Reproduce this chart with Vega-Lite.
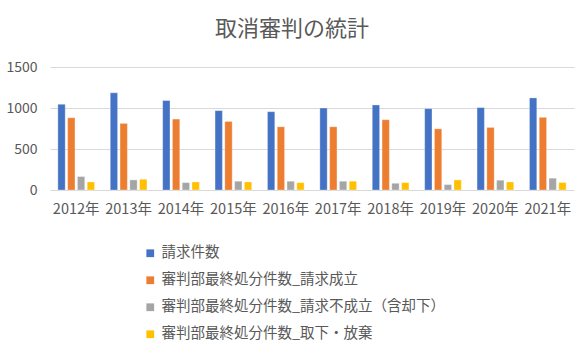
{
  "$schema": "https://vega.github.io/schema/vega-lite/v6.json",
  "width": 524,
  "height": 123,
  "autosize": {"type": "none"},
  "padding": {"left": 50, "top": 67, "right": 12, "bottom": 161},
  "background": "white",
  "title": {"text": "取消審判の統計", "font": "Noto Sans CJK JP", "fontSize": 22, "fontWeight": "normal", "color": "#595959", "offset": 19, "dx": -20},
  "data": {"values": [
    {"year": "2012年", "series": "請求件数", "value": 1045},
    {"year": "2012年", "series": "審判部最終処分件数_請求成立", "value": 881},
    {"year": "2012年", "series": "審判部最終処分件数_請求不成立（含却下）", "value": 164},
    {"year": "2012年", "series": "審判部最終処分件数_取下・放棄", "value": 98},
    {"year": "2013年", "series": "請求件数", "value": 1185},
    {"year": "2013年", "series": "審判部最終処分件数_請求成立", "value": 812},
    {"year": "2013年", "series": "審判部最終処分件数_請求不成立（含却下）", "value": 123},
    {"year": "2013年", "series": "審判部最終処分件数_取下・放棄", "value": 131},
    {"year": "2014年", "series": "請求件数", "value": 1091},
    {"year": "2014年", "series": "審判部最終処分件数_請求成立", "value": 865},
    {"year": "2014年", "series": "審判部最終処分件数_請求不成立（含却下）", "value": 90},
    {"year": "2014年", "series": "審判部最終処分件数_取下・放棄", "value": 98},
    {"year": "2015年", "series": "請求件数", "value": 968},
    {"year": "2015年", "series": "審判部最終処分件数_請求成立", "value": 836},
    {"year": "2015年", "series": "審判部最終処分件数_請求不成立（含却下）", "value": 107},
    {"year": "2015年", "series": "審判部最終処分件数_取下・放棄", "value": 98},
    {"year": "2016年", "series": "請求件数", "value": 955},
    {"year": "2016年", "series": "審判部最終処分件数_請求成立", "value": 771},
    {"year": "2016年", "series": "審判部最終処分件数_請求不成立（含却下）", "value": 107},
    {"year": "2016年", "series": "審判部最終処分件数_取下・放棄", "value": 90},
    {"year": "2017年", "series": "請求件数", "value": 1000},
    {"year": "2017年", "series": "審判部最終処分件数_請求成立", "value": 771},
    {"year": "2017年", "series": "審判部最終処分件数_請求不成立（含却下）", "value": 107},
    {"year": "2017年", "series": "審判部最終処分件数_取下・放棄", "value": 107},
    {"year": "2018年", "series": "請求件数", "value": 1037},
    {"year": "2018年", "series": "審判部最終処分件数_請求成立", "value": 857},
    {"year": "2018年", "series": "審判部最終処分件数_請求不成立（含却下）", "value": 82},
    {"year": "2018年", "series": "審判部最終処分件数_取下・放棄", "value": 90},
    {"year": "2019年", "series": "請求件数", "value": 992},
    {"year": "2019年", "series": "審判部最終処分件数_請求成立", "value": 746},
    {"year": "2019年", "series": "審判部最終処分件数_請求不成立（含却下）", "value": 66},
    {"year": "2019年", "series": "審判部最終処分件数_取下・放棄", "value": 123},
    {"year": "2020年", "series": "請求件数", "value": 1005},
    {"year": "2020年", "series": "審判部最終処分件数_請求成立", "value": 763},
    {"year": "2020年", "series": "審判部最終処分件数_請求不成立（含却下）", "value": 119},
    {"year": "2020年", "series": "審判部最終処分件数_取下・放棄", "value": 98},
    {"year": "2021年", "series": "請求件数", "value": 1123},
    {"year": "2021年", "series": "審判部最終処分件数_請求成立", "value": 886},
    {"year": "2021年", "series": "審判部最終処分件数_請求不成立（含却下）", "value": 144},
    {"year": "2021年", "series": "審判部最終処分件数_取下・放棄", "value": 90}
  ]},
  "mark": {"type": "bar", "stroke": "white", "strokeOpacity": 0.4, "strokeWidth": 0.8},
  "encoding": {
    "x": {"field": "year", "type": "nominal", "title": null,
      "scale": {"paddingInner": 0.3, "paddingOuter": 0.15},
      "axis": {"labelAngle": 0, "domain": false, "ticks": false, "labelFont": "Noto Sans CJK JP", "labelFontSize": 14.5, "labelColor": "#595959", "labelPadding": 12}},
    "xOffset": {"field": "series", "type": "nominal", "sort": ["請求件数", "審判部最終処分件数_請求成立", "審判部最終処分件数_請求不成立（含却下）", "審判部最終処分件数_取下・放棄"], "scale": {"paddingInner": 0.25}},
    "y": {"field": "value", "type": "quantitative", "title": null,
      "scale": {"domain": [0, 1500]},
      "axis": {"values": [0, 500, 1000, 1500], "format": "d", "domain": false, "ticks": false, "gridColor": "#D9D9D9", "labelFont": "Noto Sans CJK JP", "labelFontSize": 14, "labelColor": "#595959", "labelPadding": 13}},
    "color": {"field": "series", "type": "nominal",
      "sort": ["請求件数", "審判部最終処分件数_請求成立", "審判部最終処分件数_請求不成立（含却下）", "審判部最終処分件数_取下・放棄"],
      "scale": {"domain": ["請求件数", "審判部最終処分件数_請求成立", "審判部最終処分件数_請求不成立（含却下）", "審判部最終処分件数_取下・放棄"], "range": ["#4472C4", "#ED7D31", "#A5A5A5", "#FFC000"]},
      "legend": {"title": null, "orient": "none", "legendX": 93, "legendY": 179, "direction": "vertical", "symbolType": "square", "symbolSize": 60, "symbolStrokeWidth": 0, "labelFont": "Noto Sans CJK JP", "labelFontSize": 14.5, "labelColor": "#595959", "rowPadding": 12, "labelOffset": 4, "labelLimit": 420}}
  },
  "config": {"view": {"stroke": null}}
}
